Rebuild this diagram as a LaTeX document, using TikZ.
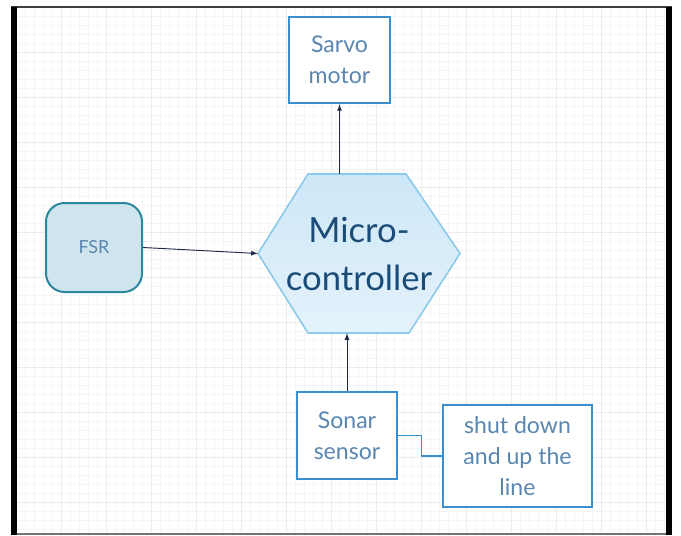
\documentclass[tikz,border=0pt]{standalone}
\usepackage{fontspec}
\setmainfont{Lato}
\usetikzlibrary{positioning,calc}
\definecolor{boxblue}{HTML}{3A8FCF}
\definecolor{txtblue}{HTML}{5A86B0}
\definecolor{hexline}{HTML}{8CCAEC}
\definecolor{hextop}{HTML}{CDE7F7}
\definecolor{hexbot}{HTML}{E4F2FB}
\definecolor{hextxt}{HTML}{1B4C78}
\definecolor{fsrfill}{HTML}{CFE5EE}
\definecolor{fsrline}{HTML}{2B879E}
\definecolor{arrowc}{HTML}{1E2A48}
\definecolor{gridc}{HTML}{F5F5F5}
\definecolor{gridd}{HTML}{ECECEC}
\begin{document}
\begin{tikzpicture}[>=latex,x=0.75pt,y=-0.75pt,
	blk/.style={draw=boxblue,line width=1.8pt,fill=white,text=txtblue,align=center,inner sep=0pt,
		font=\fontsize{17.3}{23}\selectfont},
	link/.style={arrowc,line width=0.7pt}]
	\useasboundingbox (0,0) rectangle (681,535);
	% grid
	\foreach \x in {16,25,...,664} \draw[gridc,line width=0.4pt] (\x,8) -- (\x,533);
	\foreach \y in {16,25,...,533} \draw[gridc,line width=0.4pt] (16,\y) -- (664,\y);
	\foreach \x in {61,106,...,664} \draw[gridd,line width=0.5pt] (\x,8) -- (\x,533);
	\foreach \y in {52,97,...,533} \draw[gridd,line width=0.5pt] (16,\y) -- (664,\y);
	% frame
	\draw[black!75,line width=1.5pt] (11,7) -- (672,7);
	\draw[black!55,line width=1pt] (11,534) -- (672,534);
	\draw[black,line width=4.2pt] (14,7) -- (14,535);
	\draw[black,line width=4.2pt] (669,7) -- (669,535);
	
	\coordinate (mcc) at (359,253.5);
	\draw[hexline,line width=1.2pt,top color=hextop,bottom color=hexbot]
	($(mcc)+(-101,0)$) -- ($(mcc)+(-51,-79.5)$) -- ($(mcc)+(47,-79.5)$) -- ($(mcc)+(101,0)$)
	-- ($(mcc)+(50,79.5)$) -- ($(mcc)+(-51,79.5)$) -- cycle;
	\path
	(mcc)         node[minimum width=151.5pt,minimum height=119.25pt,inner sep=0pt,align=center,
	text=hextxt,font=\fontsize{26}{36}\selectfont] (mc) {Micro-\\controller}
	(339.5,60)    node[blk,minimum width=75.75pt,minimum height=64.5pt]  (servo) {Sarvo\\motor}
	(94,247.5)    node[draw=fsrline,line width=1.5pt,fill=fsrfill,rounded corners=14pt,text=txtblue,
	minimum width=72pt,minimum height=66.75pt,font=\fontsize{13.5}{16}\selectfont] (fsr) {FSR}
	(347,435.5)   node[blk,minimum width=75pt,minimum height=65.25pt]    (sonar) {Sonar\\sensor}
	(517.5,456)   node[blk,minimum width=111.75pt,minimum height=76.5pt] (shut) {shut down\\and up the\\line};
	\draw[link,->] (fsr.east) -- (mc.west);
	\draw[link,->] (servo.south |- mc.north) -- (servo.south);
	\draw[link,->] (sonar.north) -- (sonar.north |- mc.south);
	\draw[boxblue,line width=0.8pt] (sonar.east) -- ++(23,0) |- (shut.west);
\end{tikzpicture}
\end{document}
